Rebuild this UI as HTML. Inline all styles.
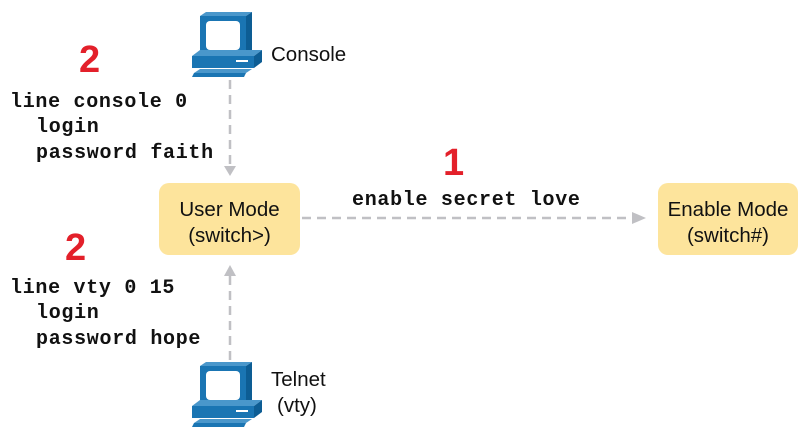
<!DOCTYPE html>
<html><head><style>
body{margin:0;background:#fff;width:810px;height:437px;overflow:hidden}
svg{display:block}
.m{font-family:"Liberation Mono",monospace;font-weight:bold;font-size:20px;fill:#111;letter-spacing:0.7px}
.s{font-family:"Liberation Sans",sans-serif;font-size:20.5px;fill:#111}
.r{font-family:"Liberation Sans",sans-serif;font-weight:bold;font-size:38px;fill:#e3202a}
</style></head><body>
<svg width="810" height="437" viewBox="0 0 810 437">
<defs>
<g id="pc">
 <polygon points="8,4 14,0 60,0 54,4" fill="#4a97cb"/>
 <polygon points="54,4 60,0 60,40 54,44" fill="#0d5d94"/>
 <rect x="8" y="4" width="46" height="40" fill="#1a75b3"/>
 <rect x="14" y="9" width="34" height="29" rx="4" fill="#fff"/>
 <polygon points="0,44 8,38 70,38 62,44" fill="#4a97cb"/>
 <polygon points="62,44 70,38 70,50 62,56" fill="#0d5d94"/>
 <rect x="0" y="44" width="62" height="12" fill="#1a75b3"/>
 <rect x="44" y="48" width="12" height="2" fill="#fff"/>
 <polygon points="2,61 8,57 60,57 54,61" fill="#4a97cb"/>
 <polygon points="2,61 54,61 52,65 0,65" fill="#1a75b3"/>
</g>
</defs>
<use href="#pc" x="192" y="12"/>
<use href="#pc" x="192" y="362"/>
<text class="s" x="271" y="61">Console</text>
<text class="s" x="271" y="386">Telnet</text>
<text class="s" x="277" y="412">(vty)</text>

<g stroke="#c0c0c4" stroke-width="2.5" stroke-dasharray="9,6" fill="none">
<line x1="230" y1="80" x2="230" y2="166"/>
<line x1="230" y1="360" x2="230" y2="276"/>
<line x1="302" y1="218" x2="632" y2="218"/>
</g>
<g fill="#c0c0c4">
<polygon points="224,166 236,166 230,176"/>
<polygon points="224,276 236,276 230,265"/>
<polygon points="632,212 632,224 646,218"/>
</g>

<rect x="159" y="183" width="141" height="72" rx="10" fill="#fde49c"/>
<rect x="658" y="183" width="140" height="72" rx="10" fill="#fde49c"/>
<text class="s" x="229.5" y="216" text-anchor="middle">User Mode</text>
<text class="s" x="229.5" y="242" text-anchor="middle">(switch&gt;)</text>
<text class="s" x="728" y="216" text-anchor="middle">Enable Mode</text>
<text class="s" x="728" y="242" text-anchor="middle">(switch#)</text>

<text class="r" x="79" y="72">2</text>
<text class="r" x="65" y="260">2</text>
<text class="r" x="443" y="175">1</text>

<text class="m" x="10" y="107">line console 0</text>
<text class="m" x="36" y="132">login</text>
<text class="m" x="36" y="158">password faith</text>
<text class="m" x="10" y="293">line vty 0 15</text>
<text class="m" x="36" y="318">login</text>
<text class="m" x="36" y="344">password hope</text>
<text class="m" x="352" y="205">enable secret love</text>
</svg>
</body></html>
